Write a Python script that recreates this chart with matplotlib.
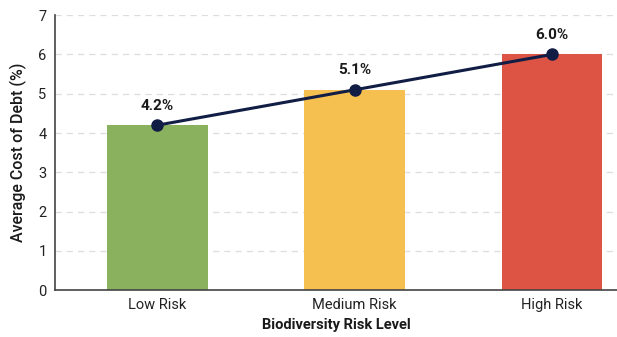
import matplotlib.pyplot as plt

risk_levels = ["Low Risk", "Medium Risk", "High Risk"]
cost_of_debt = [4.2, 5.1, 6.0]
bar_colors = ["#8AB15E", "#F5C04F", "#DD5444"]

plt.rcParams["font.family"] = ["Roboto", "DejaVu Sans"]

fig = plt.figure(figsize=(6.17, 3.37), dpi=100)
ax = fig.add_axes([0.089, 0.139, 0.911, 0.816])

x = range(len(risk_levels))
ax.bar(x, cost_of_debt, width=0.51, color=bar_colors, zorder=2)
ax.plot(x, cost_of_debt, color="#111D45", linewidth=2.2, marker="o",
        markersize=8, zorder=3)

for xi, v in zip(x, cost_of_debt):
    ax.annotate(f"{v:.1f}%", (xi, v), xytext=(0, 9), textcoords="offset points",
                ha="center", va="bottom", fontsize=11, fontweight="bold",
                color="#1a1a1a")

ax.set_xlim(-0.52, 2.33)
ax.set_ylim(0, 7)
ax.set_yticks(range(0, 8))
ax.set_xticks(list(x))
ax.set_xticklabels(risk_levels)
ax.tick_params(axis="both", length=0, labelsize=10.5, colors="#222222", pad=6)

ax.grid(axis="y", linestyle=(0, (5, 4)), color="#dddddd", linewidth=0.9, zorder=0)
ax.set_axisbelow(True)
for side in ["top", "right"]:
    ax.spines[side].set_visible(False)
for side in ["left", "bottom"]:
    ax.spines[side].set_color("#444444")
    ax.spines[side].set_linewidth(1.2)

ax.set_ylabel("Average Cost of Debt (%)", fontsize=11.5, fontweight="medium",
              color="#1a1a1a", labelpad=8)
ax.set_xlabel("Biodiversity Risk Level", fontsize=10.5, fontweight="bold",
              color="#1a1a1a", labelpad=4)

fig.savefig("out.png", dpi=100, facecolor="white")
